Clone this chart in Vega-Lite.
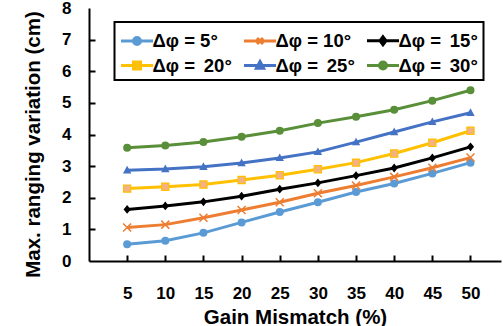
{
 "$schema": "https://vega.github.io/schema/vega-lite/v6.json",
 "width": 412,
 "height": 253,
 "autosize": {"type": "none"},
 "padding": {"left": 89, "top": 8, "right": 2, "bottom": 65},
 "config": {
  "view": {"stroke": null},
  "font": "Liberation Sans",
  "axis": {"domainColor": "black", "domainWidth": 2, "tickColor": "black", "tickWidth": 2, "tickSize": 0, "labelFont": "Liberation Sans", "labelFontWeight": "bold", "labelFontSize": 17, "labelColor": "black", "titleFont": "Liberation Sans", "titleFontWeight": "bold", "titleFontSize": 20.5, "titleColor": "black", "grid": false}
 },
 "datasets": {
  "d": [
   {"x": 5, "y": 0.53, "s": "Δφ = 5°"}, {"x": 10, "y": 0.64, "s": "Δφ = 5°"}, {"x": 15, "y": 0.89, "s": "Δφ = 5°"}, {"x": 20, "y": 1.22, "s": "Δφ = 5°"}, {"x": 25, "y": 1.55, "s": "Δφ = 5°"}, {"x": 30, "y": 1.86, "s": "Δφ = 5°"}, {"x": 35, "y": 2.18, "s": "Δφ = 5°"}, {"x": 40, "y": 2.45, "s": "Δφ = 5°"}, {"x": 45, "y": 2.77, "s": "Δφ = 5°"}, {"x": 50, "y": 3.11, "s": "Δφ = 5°"},
   {"x": 5, "y": 1.06, "s": "Δφ = 10°"}, {"x": 10, "y": 1.15, "s": "Δφ = 10°"}, {"x": 15, "y": 1.37, "s": "Δφ = 10°"}, {"x": 20, "y": 1.61, "s": "Δφ = 10°"}, {"x": 25, "y": 1.86, "s": "Δφ = 10°"}, {"x": 30, "y": 2.14, "s": "Δφ = 10°"}, {"x": 35, "y": 2.39, "s": "Δφ = 10°"}, {"x": 40, "y": 2.66, "s": "Δφ = 10°"}, {"x": 45, "y": 2.95, "s": "Δφ = 10°"}, {"x": 50, "y": 3.27, "s": "Δφ = 10°"},
   {"x": 5, "y": 1.63, "s": "Δφ =  15°"}, {"x": 10, "y": 1.74, "s": "Δφ =  15°"}, {"x": 15, "y": 1.87, "s": "Δφ =  15°"}, {"x": 20, "y": 2.05, "s": "Δφ =  15°"}, {"x": 25, "y": 2.27, "s": "Δφ =  15°"}, {"x": 30, "y": 2.47, "s": "Δφ =  15°"}, {"x": 35, "y": 2.70, "s": "Δφ =  15°"}, {"x": 40, "y": 2.94, "s": "Δφ =  15°"}, {"x": 45, "y": 3.26, "s": "Δφ =  15°"}, {"x": 50, "y": 3.61, "s": "Δφ =  15°"},
   {"x": 5, "y": 2.29, "s": "Δφ =  20°"}, {"x": 10, "y": 2.35, "s": "Δφ =  20°"}, {"x": 15, "y": 2.42, "s": "Δφ =  20°"}, {"x": 20, "y": 2.56, "s": "Δφ =  20°"}, {"x": 25, "y": 2.71, "s": "Δφ =  20°"}, {"x": 30, "y": 2.90, "s": "Δφ =  20°"}, {"x": 35, "y": 3.11, "s": "Δφ =  20°"}, {"x": 40, "y": 3.40, "s": "Δφ =  20°"}, {"x": 45, "y": 3.74, "s": "Δφ =  20°"}, {"x": 50, "y": 4.12, "s": "Δφ =  20°"},
   {"x": 5, "y": 2.87, "s": "Δφ =  25°"}, {"x": 10, "y": 2.91, "s": "Δφ =  25°"}, {"x": 15, "y": 2.98, "s": "Δφ =  25°"}, {"x": 20, "y": 3.10, "s": "Δφ =  25°"}, {"x": 25, "y": 3.26, "s": "Δφ =  25°"}, {"x": 30, "y": 3.45, "s": "Δφ =  25°"}, {"x": 35, "y": 3.76, "s": "Δφ =  25°"}, {"x": 40, "y": 4.08, "s": "Δφ =  25°"}, {"x": 45, "y": 4.40, "s": "Δφ =  25°"}, {"x": 50, "y": 4.69, "s": "Δφ =  25°"},
   {"x": 5, "y": 3.58, "s": "Δφ =  30°"}, {"x": 10, "y": 3.65, "s": "Δφ =  30°"}, {"x": 15, "y": 3.76, "s": "Δφ =  30°"}, {"x": 20, "y": 3.93, "s": "Δφ =  30°"}, {"x": 25, "y": 4.12, "s": "Δφ =  30°"}, {"x": 30, "y": 4.36, "s": "Δφ =  30°"}, {"x": 35, "y": 4.56, "s": "Δφ =  30°"}, {"x": 40, "y": 4.78, "s": "Δφ =  30°"}, {"x": 45, "y": 5.07, "s": "Δφ =  30°"}, {"x": 50, "y": 5.40, "s": "Δφ =  30°"}
  ]
 },
 "data": {"name": "d"},
 "encoding": {
  "x": {"field": "x", "type": "quantitative", "scale": {"domain": [0, 54], "nice": false}, "axis": null},
  "y": {"field": "y", "type": "quantitative", "scale": {"domain": [0, 8], "nice": false}, "axis": null}
 },
 "resolve": {"axis": {"x": "independent", "y": "independent"}},
 "layer": [
  {
   "mark": {"type": "line", "strokeWidth": 3},
   "encoding": {
    "x": {"field": "x", "type": "quantitative", "scale": {"domain": [0, 54], "nice": false}, "axis": {"orient": "bottom", "values": [5, 10, 15, 20, 25, 30, 35, 40, 45, 50], "title": "Gain Mismatch (%)", "labelPadding": 24, "titlePadding": 6}},
    "y": {"field": "y", "type": "quantitative", "scale": {"domain": [0, 8], "nice": false}, "axis": {"orient": "left", "values": [0, 1, 2, 3, 4, 5, 6, 7, 8], "title": "Max. ranging variation (cm)", "labelPadding": 18, "titlePadding": 18, "titleY": 136}},
    "color": {"field": "s", "type": "nominal",
     "scale": {"domain": ["Δφ = 5°", "Δφ = 10°", "Δφ =  15°", "Δφ =  20°", "Δφ =  25°", "Δφ =  30°"], "range": ["#5B9BD5", "#ED7D31", "#000000", "#FFC000", "#4472C4", "#5A8F3A"]},
     "legend": {
      "title": null, "orient": "none", "legendX": 25.5, "legendY": 14, "columns": 3, "direction": "horizontal",
      "strokeColor": "black", "padding": 5, "gridAlign": "all", "columnPadding": 5, "rowPadding": 1,
      "labelFont": "Liberation Sans", "labelFontWeight": "bold", "labelFontSize": 18.5, "labelColor": "black", "labelLimit": 300, "labelOffset": 6,
      "symbolSize": 576, "symbolStrokeWidth": 3, "symbolType": "M-1,0H1.667",
      "encode": {
       "legend": {"update": {"strokeWidth": {"value": 2}}},
       "labels": {"update": {"text": {"signal": "replace(datum.label, '=  ', '=\u2009 ')"}}},
       "symbols": {"update": {
        "shape": {"signal": "['M-1,0H1.667M0.623,0A0.29,0.29,0,1,1,0.043,0A0.29,0.29,0,1,1,0.623,0Z','M-1,0H1.667M0.083,-0.25L0.583,0.25M0.083,0.25L0.583,-0.25','M-1,0H1.667M0.333,-0.33L0.583,0L0.333,0.33L0.083,0Z','M-1,0H1.667M0.043,-0.29H0.623V0.29H0.043Z','M-1,0H1.667M0.333,-0.33L0.633,0.22H0.033Z','M-1,0H1.667M0.623,0A0.29,0.29,0,1,1,0.043,0A0.29,0.29,0,1,1,0.623,0Z'][datum.index]"},
        "fill": {"signal": "['#5B9BD5','#ED7D31','#000000','#F4B183','#4472C4','#5A8F3A'][datum.index]"}
       }}
      }
     }
    }
   }
  },
  {"transform": [{"filter": "datum.s === 'Δφ = 5°'"}], "mark": {"type": "point", "filled": true, "size": 64, "shape": "circle", "fill": "#5B9BD5", "opacity": 1},
   "encoding": {
    "x": {"field": "x", "type": "quantitative", "axis": {"orient": "bottom", "values": [5, 10, 15, 20, 25, 30, 35, 40, 45, 50], "offset": -6, "tickSize": 6, "labels": false, "domain": false, "title": null, "zindex": 1}},
    "y": {"field": "y", "type": "quantitative", "axis": {"orient": "left", "values": [1, 2, 3, 4, 5, 6, 7], "offset": -6, "tickSize": 6, "labels": false, "domain": false, "title": null, "zindex": 1}}
   }},
  {"transform": [{"filter": "datum.s === 'Δφ = 10°'"}], "mark": {"type": "point", "filled": false, "size": 64, "shape": "M-1,-1L1,1M-1,1L1,-1", "stroke": "#ED7D31", "strokeWidth": 1.5, "opacity": 1}},
  {"transform": [{"filter": "datum.s === 'Δφ =  15°'"}], "mark": {"type": "point", "filled": true, "size": 64, "shape": "M0,-1.1L0.9,0L0,1.1L-0.9,0Z", "fill": "#000000", "opacity": 1}},
  {"transform": [{"filter": "datum.s === 'Δφ =  20°'"}], "mark": {"type": "point", "filled": true, "size": 64, "shape": "M-0.9,-0.9H0.9V0.9H-0.9Z", "fill": "#F4B183", "stroke": "#FFC000", "strokeWidth": 1.2, "opacity": 1}},
  {"transform": [{"filter": "datum.s === 'Δφ =  25°'"}], "mark": {"type": "point", "filled": true, "size": 64, "shape": "M0,-1.1L1.05,0.8H-1.05Z", "fill": "#4472C4", "opacity": 1}},
  {"transform": [{"filter": "datum.s === 'Δφ =  30°'"}], "mark": {"type": "point", "filled": true, "size": 64, "shape": "circle", "fill": "#5A8F3A", "opacity": 1}},
  {
   "data": {"values": [{}]},
   "mark": {"type": "rule", "strokeWidth": 2, "color": "black"},
   "encoding": {"y": {"datum": 8, "axis": null}, "x": null}
  }
 ]
}
